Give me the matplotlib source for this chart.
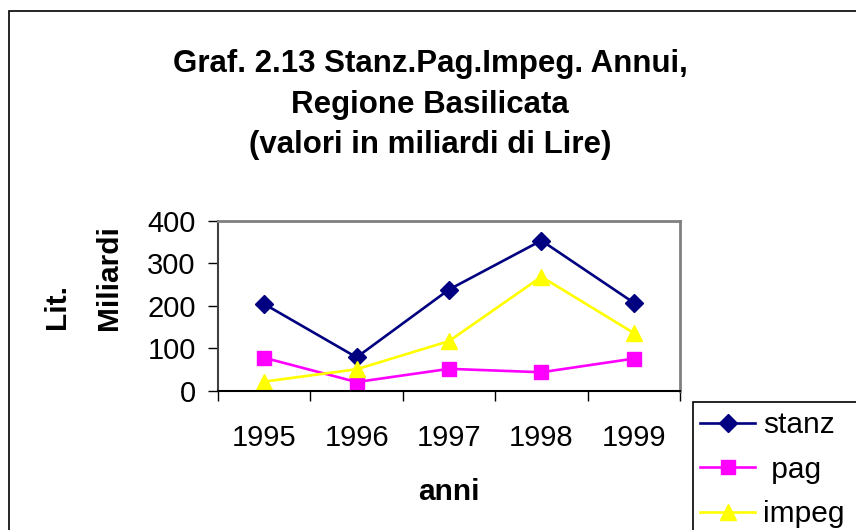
import matplotlib
matplotlib.use("Agg")
import matplotlib.pyplot as plt
from matplotlib.patches import Rectangle
from matplotlib.ticker import FixedLocator

plt.rcParams['font.family'] = ['Liberation Sans', 'DejaVu Sans']

# data
anni = ['1995', '1996', '1997', '1998', '1999']
stanz = [204, 79, 238, 353, 207]
pag = [78, 21, 52, 44, 76]
impeg = [22, 51, 117, 268, 136]

W, H = 856, 530
fig = plt.figure(figsize=(W / 100, H / 100), dpi=100)

def fx(px):
    return px / W

def fy(py):
    return 1 - py / H

# outer chart border (runs off the right and bottom edge)
fig.add_artist(Rectangle((fx(9), fy(560)), fx(900), fy(11) - fy(560),
                         transform=fig.transFigure, fill=False,
                         edgecolor='black', lw=1.2))

ax = fig.add_axes([fx(218), fy(391), fx(680) - fx(218), fy(220.5) - fy(391)])
x = list(range(len(anni)))
l1, = ax.plot(x, stanz, color='#000080', lw=1.9, marker='D', ms=9.5,
              label='stanz')
l2, = ax.plot(x, pag, color='#FF00FF', lw=1.9, marker='s', ms=10.5,
              label=' pag')
l3, = ax.plot(x, impeg, color='#FFFF00', lw=1.9, marker='^', ms=12,
              label='impeg')

ax.set_xlim(-0.5, 4.5)
ax.set_ylim(0, 400)
ax.set_yticks([0, 100, 200, 300, 400])
ax.set_xticks(x)
ax.set_xticklabels(anni)
ax.xaxis.set_minor_locator(FixedLocator([-0.5, 0.5, 1.5, 2.5, 3.5, 4.5]))
ax.tick_params(axis='x', which='major', length=0, pad=24, labelsize=21)
ax.tick_params(axis='x', which='minor', length=7, width=1, direction='out')
ax.tick_params(axis='y', length=7, width=1, direction='out', pad=9,
               labelsize=21)

for s in ['top', 'right']:
    ax.spines[s].set_color('#808080')
    ax.spines[s].set_linewidth(2)
ax.spines['left'].set_color('#404040')
ax.spines['left'].set_linewidth(1.5)
ax.spines['bottom'].set_color('black')
ax.spines['bottom'].set_linewidth(1.5)

# titles and axis captions
fig.text(fx(430), fy(72), 'Graf. 2.13 Stanz.Pag.Impeg. Annui,',
         ha='center', va='baseline', fontsize=22.5, fontweight='bold')
fig.text(fx(430), fy(113), 'Regione Basilicata',
         ha='center', va='baseline', fontsize=22.5, fontweight='bold')
fig.text(fx(430), fy(153), '(valori in miliardi di Lire)',
         ha='center', va='baseline', fontsize=22.5, fontweight='bold')

fig.text(fx(449), fy(500), 'anni', ha='center', va='baseline',
         fontsize=21.5, fontweight='bold')
fig.text(fx(71), fy(329), 'Lit.', ha='right', va='bottom', rotation=90,
         fontsize=21.5, fontweight='bold')
fig.text(fx(123), fy(330), 'Miliardi', ha='right', va='bottom', rotation=90,
         fontsize=21.5, fontweight='bold')

# legend box, cut by the image edge
fig.add_artist(Rectangle((fx(693), fy(560)), fx(900), fy(402) - fy(560),
                         transform=fig.transFigure, fill=False,
                         edgecolor='black', lw=1.2))
fig.legend(handles=[l1, l2, l3], loc='upper left',
           bbox_to_anchor=(fx(694), fy(405)), frameon=False,
           fontsize=21.5, handlelength=1.85, handletextpad=0.25,
           labelspacing=0.56, borderpad=0.2, borderaxespad=0)

fig.savefig('out.png', dpi=100)
